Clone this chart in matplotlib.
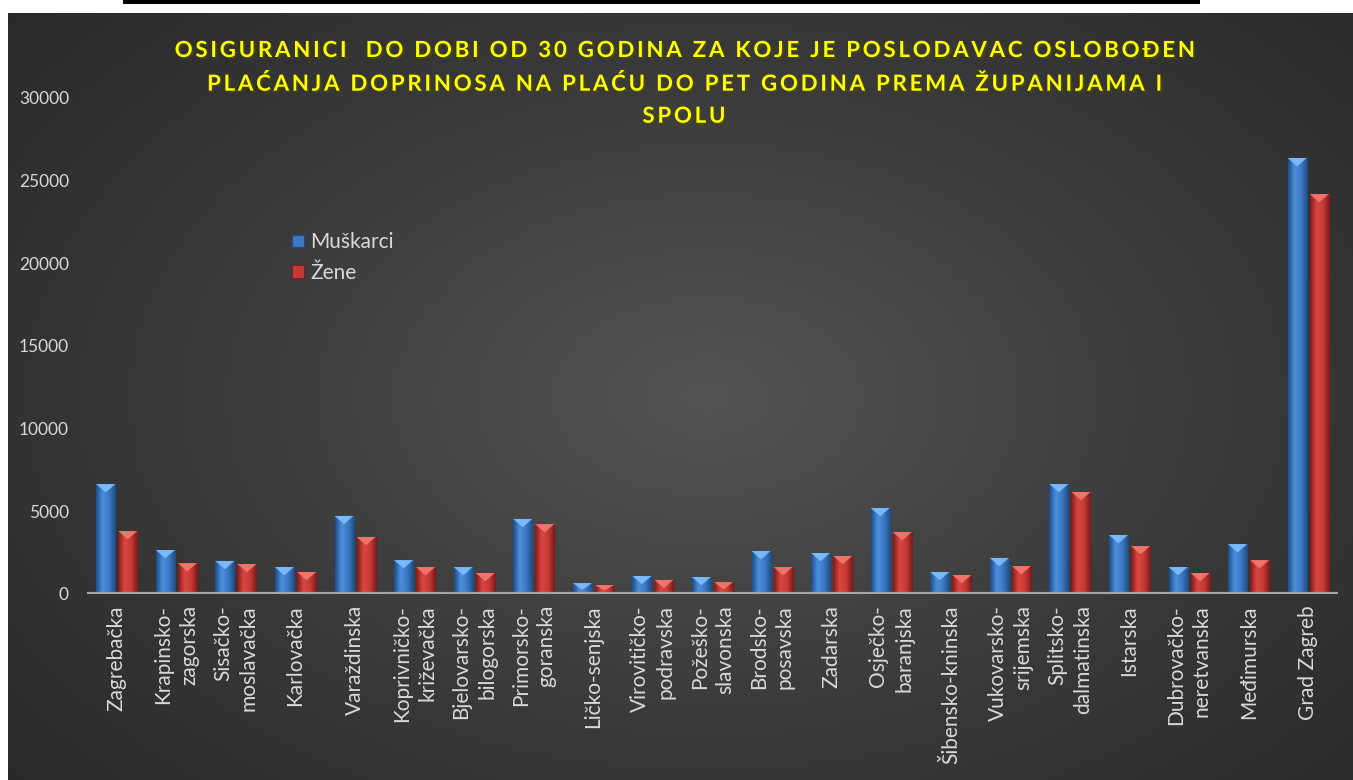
import numpy as np
import matplotlib
matplotlib.use("Agg")
import matplotlib.pyplot as plt
from matplotlib.patches import Polygon, Rectangle
from matplotlib.colors import LinearSegmentedColormap
from matplotlib import patheffects as pe

# ── data ────────────────────────────────────────────────
zupanije = [
    "Zagrebačka", "Krapinsko-\nzagorska", "Sisačko-\nmoslavačka", "Karlovačka",
    "Varaždinska", "Koprivničko-\nkriževačka", "Bjelovarsko-\nbilogorska",
    "Primorsko-\ngoranska", "Ličko-senjska", "Virovitičko-\npodravska",
    "Požeško-\nslavonska", "Brodsko-\nposavska", "Zadarska", "Osječko-\nbaranjska",
    "Šibensko-kninska", "Vukovarsko-\nsrijemska", "Splitsko-\ndalmatinska",
    "Istarska", "Dubrovačko-\nneretvanska", "Međimurska", "Grad Zagreb",
]
muskarci = [6650, 2660, 2000, 1630, 4720, 2050, 1630, 4540, 660, 1090, 1030,
            2600, 2480, 5200, 1330, 2180, 6650, 3570, 1630, 3020, 26370]
zene = [3810, 1870, 1810, 1330, 3450, 1630, 1270, 4230, 540, 850, 720,
        1630, 2300, 3750, 1150, 1690, 6170, 2900, 1270, 2050, 24190]
y_ticks = [0, 5000, 10000, 15000, 20000, 25000, 30000]

TITLE_LINES = [
    "OSIGURANICI  DO DOBI OD 30 GODINA ZA KOJE JE POSLODAVAC OSLOBOĐEN",
    "PLAĆANJA DOPRINOSA NA PLAĆU DO PET GODINA PREMA ŽUPANIJAMA I",
    "SPOLU",
]

W, H = 1353, 780
FONT = ["Lato", "DejaVu Sans"]
plt.rcParams["font.family"] = FONT

fig = plt.figure(figsize=(W / 100, H / 100), dpi=100, facecolor="white")

# ── dark radial background ─────────────────────────────
bg = fig.add_axes([8 / W, 0, 1 - 8 / W, 1 - 13 / H])
bg.set_axis_off()
gx, gy = np.meshgrid(np.linspace(0, 1, 400), np.linspace(0, 1, 300))
r = np.sqrt(((gx - 0.52) / 0.75) ** 2 + ((gy - 0.5) / 0.85) ** 2)
shade = np.clip(1 - r, 0, 1)
bg_cmap = LinearSegmentedColormap.from_list("bg", ["#262626", "#3a3a3a", "#545454"])
bg.imshow(shade, cmap=bg_cmap, aspect="auto", extent=[0, 1, 0, 1], vmin=0, vmax=1)
bg.set_xlim(0, 1)
bg.set_ylim(0, 1)

# black line above the chart
fig.add_artist(Rectangle((123 / W, 1 - 4 / H), (1200 - 123) / W, 4 / H,
                         transform=fig.transFigure, color="black", lw=0))

# ── main axes ──────────────────────────────────────────
ax = fig.add_axes([87 / W, 1 - 594 / H, (1338 - 87) / W, (594 - 98) / H])
ax.patch.set_alpha(0)

x = np.arange(len(zupanije))
bw = 0.32
off = 0.185

series = [
    (muskarci, -off, ["#1d4c86", "#4c8fdc", "#3c78c4", "#1e4a80"], "#7fc0ff", "Muškarci"),
    (zene, off, ["#7e1b1b", "#dc4640", "#c53a34", "#7a1a1a"], "#f27a72", "Žene"),
]

tri_depth = 500  # data units (~8 px)
for vals, dx, cols, light, name in series:
    bars = ax.bar(x + dx, vals, width=bw, color=cols[2], edgecolor=cols[0],
                  linewidth=0.8, zorder=3, label=name)
    cm = LinearSegmentedColormap.from_list(name, cols)
    grad = np.linspace(0, 1, 64).reshape(1, -1)
    for b in bars:
        x0, h, w = b.get_x(), b.get_height(), b.get_width()
        im = ax.imshow(grad, cmap=cm, extent=[x0, x0 + w, 0, h], aspect="auto",
                       zorder=3.5, interpolation="bicubic")
        im.set_clip_path(b)
        d = min(tri_depth, h * 0.6)
        ax.add_patch(Polygon([[x0, h], [x0 + w, h], [x0 + w / 2, h - d]],
                             closed=True, facecolor=light, edgecolor="none",
                             alpha=0.9, zorder=4))

ax.set_xlim(-0.5, len(zupanije) - 0.5)
ax.set_ylim(0, 30000)
ax.set_aspect("auto")

ax.axhline(0, color="#a6a6a6", lw=3, zorder=5)
for s in ax.spines.values():
    s.set_visible(False)

ax.set_yticks(y_ticks)
ax.set_yticklabels([str(t) for t in y_ticks], fontsize=12.5, color="#d9d9d9")
ax.set_xticks(x)
ax.set_xticklabels(zupanije, rotation=90, fontsize=15, color="#d9d9d9",
                   va="top", ha="center", multialignment="right", linespacing=1.35)
ax.tick_params(axis="both", length=0)
ax.tick_params(axis="y", pad=13)
ax.tick_params(axis="x", pad=8)

# ── title (wide letter spacing) ────────────────────────
spaced = "\n".join("\u200a\u200a".join(line) for line in TITLE_LINES)
fig.text(684 / W, 1 - 40 / H, spaced, ha="center", va="top", fontsize=16,
         fontweight="bold", color="#ffff00", linespacing=1.65,
         path_effects=[pe.withSimplePatchShadow(offset=(1.5, -1.5), alpha=0.6)])

# ── legend ─────────────────────────────────────────────
leg = ax.legend(loc="upper left", bbox_to_anchor=(197 / (1338 - 87), 1 - (224 - 98) / (594 - 98)),
                frameon=False, fontsize=15, labelcolor="#d9d9d9",
                handlelength=0.55, handleheight=0.55, handletextpad=0.3,
                labelspacing=0.5, borderaxespad=0)

fig.savefig("out.png", dpi=100, facecolor="white")
